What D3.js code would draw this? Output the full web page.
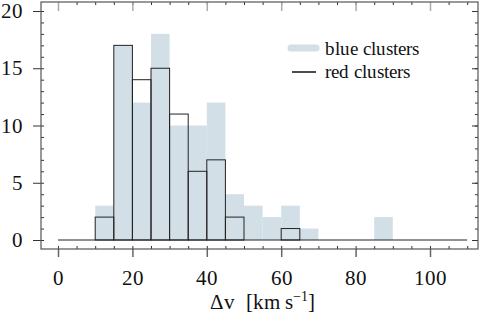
<!DOCTYPE html>
<html>
<head>
<meta charset="utf-8">
<script src="https://cdn.jsdelivr.net/npm/d3@7"></script>
<style>
@font-face {
    font-family: "ChartSerif";
    src: local("Liberation Serif"), local("LiberationSerif"), local("LiberationSerif-Regular"), local("Times New Roman");
}
body { margin: 0; background: #fff; }
svg text { font-family: ChartSerif, "Liberation Serif", "Times New Roman", serif; }
</style>
</head>
<body>
<div id="chart"></div>
<script>
// histogram bins, 5 km/s wide
var binStarts = [10, 15, 20, 25, 30, 35, 40, 45, 50, 55, 60, 65, 70, 75, 80, 85];
var blueCounts = [3, 17, 12, 18, 10, 10, 12, 4, 3, 2, 3, 1, 0, 0, 0, 2];
var redCounts  = [2, 17, 14, 15, 11, 6, 7, 2, 0, 0, 1, 0, 0, 0, 0, 0];
var BIN = 5;
var xTicks = [0, 20, 40, 60, 80, 100];
var yTicks = [0, 5, 10, 15, 20];
var legendLabels = ["blue clusters", "red clusters"];

var W = 485, H = 317;
var BLUE = "#d3dfe6";

var svg = d3.select("#chart").append("svg")
    .attr("width", W)
    .attr("height", H)

var x = d3.scaleLinear().domain([0, 100]).range([58, 430]);
var y = d3.scaleLinear().domain([0, 20]).range([240, 11]);

var frame = {left: 41, right: 478, top: 2, bottom: 249};

var blue = binStarts.map((s, i) => ({x0: s, n: blueCounts[i]})).filter(d => d.n > 0);
var red = binStarts.map((s, i) => ({x0: s, n: redCounts[i]})).filter(d => d.n > 0);

svg.append("g").selectAll("rect")
    .data(blue).enter()
    .append("rect")
    .attr("x", d => x(d.x0))
    .attr("width", d => x(d.x0 + BIN) - x(d.x0))
    .attr("y", d => y(d.n))
    .attr("height", d => y(0) - y(d.n))
    .style("fill", BLUE)

svg.append("g").selectAll("rect")
    .data(red).enter()
    .append("rect")
    .attr("x", d => x(d.x0))
    .attr("width", d => x(d.x0 + BIN) - x(d.x0))
    .attr("y", d => y(d.n))
    .attr("height", d => y(0) - y(d.n))
    .style("fill", "none")
    .style("stroke", "#222")
    .style("stroke-width", 1)

// zero line
svg.append("line")
    .attr("x1", x(0)).attr("x2", x(110))
    .attr("y1", y(0)).attr("y2", y(0))
    .style("stroke", "#222")
    .style("stroke-width", 1)

function styleAxis(g, color, width) {
    g.attr("font-family", null);
    g.select(".domain").remove();
    g.selectAll(".tick line").style("stroke", color).style("stroke-width", width);
    g.selectAll("text").style("fill", "#111");
}

var minorX = d3.range(0, 111, 5);
var minorY = d3.range(0, 21, 1);

// bottom
svg.append("g").attr("transform", "translate(0," + frame.bottom + ")")
    .call(d3.axisTop(x).tickValues(minorX).tickSize(3).tickFormat(""))
    .call(g => styleAxis(g, "#333", 1));
svg.append("g").attr("transform", "translate(0," + frame.bottom + ")")
    .call(d3.axisBottom(x).tickValues(xTicks).tickSize(8).tickPadding(13))
    .call(g => styleAxis(g, "#666", 1.5))
    .call(g => g.selectAll("text").style("font-size", "21px"));
// top
svg.append("g").attr("transform", "translate(0," + frame.top + ")")
    .call(d3.axisBottom(x).tickValues(minorX).tickSize(3).tickFormat(""))
    .call(g => styleAxis(g, "#333", 1));
svg.append("g").attr("transform", "translate(0," + frame.top + ")")
    .call(d3.axisBottom(x).tickValues(xTicks).tickSize(9).tickFormat(""))
    .call(g => styleAxis(g, "#aaa", 1.5));
// left
svg.append("g").attr("transform", "translate(" + frame.left + ",0)")
    .call(d3.axisRight(y).tickValues(minorY).tickSize(3).tickFormat(""))
    .call(g => styleAxis(g, "#333", 1));
svg.append("g").attr("transform", "translate(" + frame.left + ",0)")
    .call(d3.axisLeft(y).tickValues(yTicks).tickSize(8).tickPadding(10))
    .call(g => styleAxis(g, "#333", 1))
    .call(g => g.selectAll("text").style("font-size", "21px"));
// right
svg.append("g").attr("transform", "translate(" + frame.right + ",0)")
    .call(d3.axisLeft(y).tickValues(minorY).tickSize(3).tickFormat(""))
    .call(g => styleAxis(g, "#333", 1));
svg.append("g").attr("transform", "translate(" + frame.right + ",0)")
    .call(d3.axisLeft(y).tickValues(yTicks).tickSize(6).tickFormat(""))
    .call(g => styleAxis(g, "#333", 1));

svg.append("rect")
    .attr("x", frame.left).attr("y", frame.top)
    .attr("width", frame.right - frame.left)
    .attr("height", frame.bottom - frame.top)
    .style("fill", "none")
    .style("stroke", "#555")
    .style("stroke-width", 1.2)

// axis title
var title = svg.append("text")
    .attr("x", 262).attr("y", 309)
    .style("text-anchor", "middle")
    .style("font-size", "21px")
    .style("fill", "#111")
title.append("tspan").text("\u0394v\u2002[km s")
title.append("tspan").text("\u22121").attr("dy", -8).style("font-size", "14px")
title.append("tspan").text("]").attr("dy", 8)

// legend
var legend = svg.append("g")
legend.append("line")
    .attr("x1", 291).attr("x2", 316).attr("y1", 48).attr("y2", 48)
    .style("stroke", BLUE).style("stroke-width", 7).style("stroke-linecap", "round")
legend.append("line")
    .attr("x1", 292).attr("x2", 316).attr("y1", 72).attr("y2", 72)
    .style("stroke", "#111").style("stroke-width", 1.5)
legend.selectAll("text.leg")
    .data(legendLabels).enter()
    .append("text")
    .attr("class", "leg")
    .attr("x", 325)
    .attr("y", (d, i) => 55 + i * 23)
    .style("font-size", "19px")
    .style("fill", "#111")
    .text(d => d)
</script>
</body>
</html>
